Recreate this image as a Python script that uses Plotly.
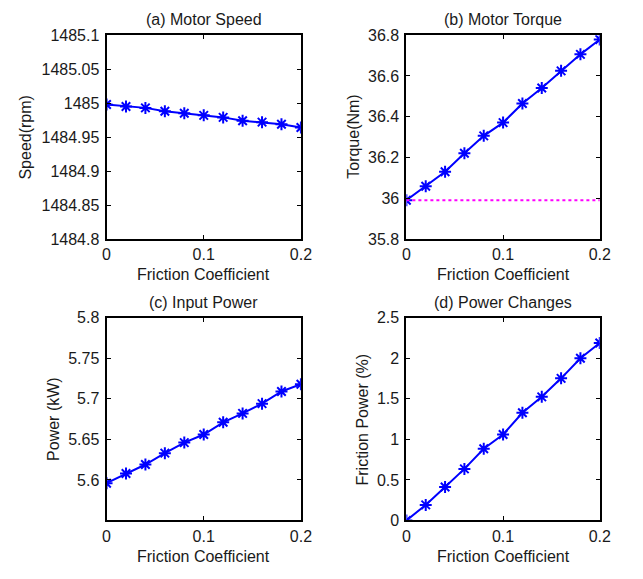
import plotly.graph_objects as go

W, H = 643, 579

friction = [0, 0.02, 0.04, 0.06, 0.08, 0.10, 0.12, 0.14, 0.16, 0.18, 0.20]
speed_rpm = [1484.998, 1484.995, 1484.993, 1484.988, 1484.985, 1484.982,
             1484.979, 1484.974, 1484.972, 1484.969, 1484.964]
torque_nm = [35.99, 36.059, 36.130, 36.221, 36.306, 36.371,
             36.465, 36.541, 36.625, 36.706, 36.779]
torque_ref = 35.99
power_kw = [5.596, 5.608, 5.619, 5.633, 5.646, 5.656,
            5.671, 5.682, 5.694, 5.709, 5.718]
friction_power_pct = [0.0, 0.192, 0.412, 0.636, 0.884, 1.06,
                      1.328, 1.524, 1.752, 2.0, 2.188]

titles = ["(a) Motor Speed", "(b) Motor Torque", "(c) Input Power", "(d) Power Changes"]
ytitles = ["Speed(rpm)", "Torque(Nm)", "Power (kW)", "Friction Power (%)"]
xtitle = "Friction Coefficient"

x_ticks = [0, 0.1, 0.2]
x_ticktext = ["0", "0.1", "0.2"]
speed_ticks = [1484.8, 1484.85, 1484.9, 1484.95, 1485.0, 1485.05, 1485.1]
speed_ticktext = ["1484.8", "1484.85", "1484.9", "1484.95", "1485", "1485.05", "1485.1"]
torque_ticks = [35.8, 36.0, 36.2, 36.4, 36.6, 36.8]
torque_ticktext = ["35.8", "36", "36.2", "36.4", "36.6", "36.8"]
power_ticks = [5.6, 5.65, 5.7, 5.75, 5.8]
power_ticktext = ["5.6", "5.65", "5.7", "5.75", "5.8"]
fp_ticks = [0, 0.5, 1, 1.5, 2, 2.5]
fp_ticktext = ["0", "0.5", "1", "1.5", "2", "2.5"]

FONT = "Liberation Sans, Arial, sans-serif"
TXT = "#1a1a1a"
FS = 16

# pixel boxes: (left, right, top, bottom)
boxes = [(105, 304, 28, 238), (412, 610, 28, 238),
         (105, 304, 319, 528), (412, 610, 319, 528)]

fig = go.Figure()

series = [speed_rpm, torque_nm, power_kw, friction_power_pct]
yranges = [[1484.8, 1485.1], [35.8, 36.8], [5.55, 5.8], [0, 2.5]]
yticks = [(speed_ticks, speed_ticktext), (torque_ticks, torque_ticktext),
          (power_ticks, power_ticktext), (fp_ticks, fp_ticktext)]

for i, ys in enumerate(series):
    n = "" if i == 0 else str(i + 1)
    fig.add_trace(go.Scatter(
        x=friction, y=ys, mode="lines+markers",
        line=dict(color="#0000ff", width=2),
        marker=dict(symbol="asterisk-open", size=10,
                    line=dict(color="#0000ff", width=2), color="#0000ff"),
        xaxis="x" + n, yaxis="y" + n, showlegend=False))
    if i == 1:
        fig.add_trace(go.Scatter(
            x=[friction[0], friction[-1]], y=[torque_ref, torque_ref],
            mode="lines", line=dict(color="#ff00ff", width=2, dash="dot"),
            xaxis="x2", yaxis="y2", showlegend=False))

annotations = []
for i in range(4):
    l, r, t, b = boxes[i]
    n = "" if i == 0 else str(i + 1)
    common = dict(showline=True, linecolor="black", linewidth=2, mirror="ticks",
                  ticks="inside", ticklen=4, tickcolor="black", tickwidth=1,
                  showgrid=False, zeroline=False,
                  tickfont=dict(family=FONT, size=FS, color=TXT))
    fig.update_layout(**{
        "xaxis" + n: dict(domain=[l / W, r / W], range=[0, 0.2],
                          tickvals=x_ticks, ticktext=x_ticktext,
                          anchor="y" + n, ticklabelstandoff=0, **common),
        "yaxis" + n: dict(domain=[1 - b / H, 1 - t / H], range=yranges[i],
                          tickvals=yticks[i][0], ticktext=yticks[i][1],
                          anchor="x" + n, ticklabelstandoff=2, **common),
    })
    cx = (l + r) / 2
    annotations.append(dict(text=titles[i], x=cx / W, y=1 - (t - 16) / H,
                            xref="paper", yref="paper", showarrow=False,
                            xanchor="center", yanchor="middle",
                            font=dict(family=FONT, size=FS, color=TXT)))
    annotations.append(dict(text=xtitle, x=cx / W, y=1 - (b + 37) / H,
                            xref="paper", yref="paper", showarrow=False,
                            xanchor="center", yanchor="middle",
                            font=dict(family=FONT, size=FS, color=TXT)))

ylab_x = [22, 357, 50, 367]
for i in range(4):
    l, r, t, b = boxes[i]
    annotations.append(dict(text=ytitles[i], x=ylab_x[i] / W, y=1 - ((t + b) / 2) / H,
                            xref="paper", yref="paper", showarrow=False,
                            textangle=-90, xanchor="center", yanchor="middle",
                            font=dict(family=FONT, size=FS, color=TXT)))

fig.update_layout(width=W, height=H, margin=dict(l=0, r=0, t=0, b=0),
                  paper_bgcolor="white", plot_bgcolor="white",
                  annotations=annotations, showlegend=False)

fig.write_html("out.html")
